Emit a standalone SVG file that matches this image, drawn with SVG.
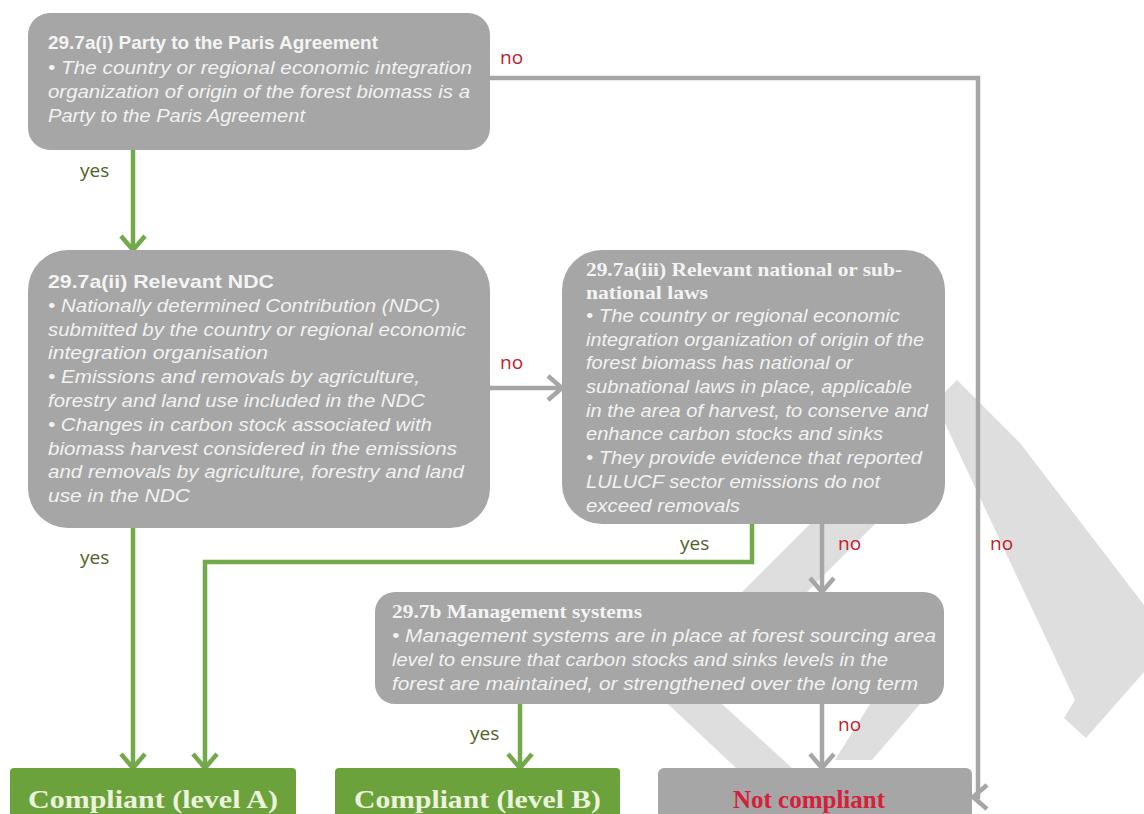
<svg xmlns="http://www.w3.org/2000/svg" width="1144" height="814" viewBox="0 0 1144 814">
<style>
.box{fill:#a6a6a6}
.gbox{fill:#6ca23b}
.t{font-family:"Liberation Sans",Arial,sans-serif;font-size:19px;font-weight:bold;fill:#f4f4f4}
.ts{font-family:"Liberation Serif","Times New Roman",serif;font-size:19px;font-weight:bold;fill:#f4f4f4}
.b{font-family:"Liberation Sans",Arial,sans-serif;font-size:18px;font-style:italic;fill:#f2f2f2}
.yes{font-family:"Open Sans","Liberation Sans",sans-serif;font-size:19px;fill:#4f6228}
.no{font-family:"Open Sans","Liberation Sans",sans-serif;font-size:19px;fill:#c0202a}
.big{font-family:"Liberation Serif","Times New Roman",serif;font-size:25px;font-weight:bold}
.cg{fill:none;stroke:#72a94a;stroke-width:4.5}
.cr{fill:none;stroke:#a6a6a6;stroke-width:4.5}
.wm{fill:#dedede}
</style>
<defs>
<marker id="ag" viewBox="-20 -16 24 32" markerWidth="24" markerHeight="32" refX="-1" refY="0" orient="auto" markerUnits="userSpaceOnUse">
<path d="M-15,-12 L-1,0 L-15,12" fill="none" stroke="#72a94a" stroke-width="4.5"/>
</marker>
<marker id="ar" viewBox="-20 -16 24 32" markerWidth="24" markerHeight="32" refX="-1" refY="0" orient="auto" markerUnits="userSpaceOnUse">
<path d="M-15,-12 L-1,0 L-15,12" fill="none" stroke="#a6a6a6" stroke-width="4.5"/>
</marker>
</defs>
<rect width="1144" height="814" fill="#ffffff"/>
<g id="watermark">
<polygon class="wm" points="935,402 957,380 1020,443 1144,605 1144,672 1086,738 1064,718 1075,700"/>
<polygon class="wm" points="854,480 919,480 749,650 684,650"/>
<polygon class="wm" points="668,704 722,704 792,768 736,768"/>
<polygon class="wm" points="870,704 920,704 872,760 835,760"/>
</g>
<g id="connectors">
<path class="cg" d="M133,150 V250" marker-end="url(#ag)"/>
<path class="cg" d="M133,528 V768" marker-end="url(#ag)"/>
<path class="cg" d="M752,524 V562 H205 V768" marker-end="url(#ag)"/>
<path class="cg" d="M520,704 V768" marker-end="url(#ag)"/>
<path class="cr" d="M490,78 H978 V797 H973" marker-end="url(#ar)"/>
<path class="cr" d="M490,388 H562" marker-end="url(#ar)"/>
<path class="cr" d="M822,524 V592" marker-end="url(#ar)"/>
<path class="cr" d="M822,704 V768" marker-end="url(#ar)"/>
<text class="no" x="500" y="64">no</text>
<text class="yes" x="80" y="177">yes</text>
<text class="no" x="500" y="369">no</text>
<text class="yes" x="80" y="564">yes</text>
<text class="yes" x="680" y="550">yes</text>
<text class="no" x="838" y="550">no</text>
<text class="no" x="990" y="550">no</text>
<text class="yes" x="470" y="740">yes</text>
<text class="no" x="838" y="731">no</text>
</g>
<g id="n1">
<rect class="box" x="28" y="13" width="462" height="137" rx="22"/>
<text class="t" x="48" y="49" textLength="330" lengthAdjust="spacingAndGlyphs">29.7a(i) Party to the Paris Agreement</text>
<text class="b" x="48" y="74" textLength="424" lengthAdjust="spacingAndGlyphs">• The country or regional economic integration</text>
<text class="b" x="48" y="98" textLength="422" lengthAdjust="spacingAndGlyphs">organization of origin of the forest biomass is a</text>
<text class="b" x="48" y="122" textLength="257" lengthAdjust="spacingAndGlyphs">Party to the Paris Agreement</text>
</g>
<g id="n2">
<rect class="box" x="28" y="250" width="462" height="278" rx="40"/>
<text class="t" x="48" y="288" textLength="226" lengthAdjust="spacingAndGlyphs">29.7a(ii) Relevant NDC</text>
<text class="b" x="48" y="312" textLength="392" lengthAdjust="spacingAndGlyphs">• Nationally determined Contribution (NDC)</text>
<text class="b" x="48" y="336" textLength="418" lengthAdjust="spacingAndGlyphs">submitted by the country or regional economic</text>
<text class="b" x="48" y="359" textLength="220" lengthAdjust="spacingAndGlyphs">integration organisation</text>
<text class="b" x="48" y="383" textLength="372" lengthAdjust="spacingAndGlyphs">• Emissions and removals by agriculture,</text>
<text class="b" x="48" y="407" textLength="377" lengthAdjust="spacingAndGlyphs">forestry and land use included in the NDC</text>
<text class="b" x="48" y="431" textLength="384" lengthAdjust="spacingAndGlyphs">• Changes in carbon stock associated with</text>
<text class="b" x="48" y="455" textLength="409" lengthAdjust="spacingAndGlyphs">biomass harvest considered in the emissions</text>
<text class="b" x="48" y="478" textLength="416" lengthAdjust="spacingAndGlyphs">and removals by agriculture, forestry and land</text>
<text class="b" x="48" y="502" textLength="142" lengthAdjust="spacingAndGlyphs">use in the NDC</text>
</g>
<g id="n3">
<rect class="box" x="562" y="250" width="383" height="274" rx="40"/>
<text class="ts" x="586" y="276" textLength="316" lengthAdjust="spacingAndGlyphs">29.7a(iii) Relevant national or sub-</text>
<text class="ts" x="586" y="299" textLength="122" lengthAdjust="spacingAndGlyphs">national laws</text>
<text class="b" x="586" y="322" textLength="314" lengthAdjust="spacingAndGlyphs">• The country or regional economic</text>
<text class="b" x="586" y="346" textLength="338" lengthAdjust="spacingAndGlyphs">integration organization of origin of the</text>
<text class="b" x="586" y="369" textLength="267" lengthAdjust="spacingAndGlyphs">forest biomass has national or</text>
<text class="b" x="586" y="393" textLength="326" lengthAdjust="spacingAndGlyphs">subnational laws in place, applicable</text>
<text class="b" x="586" y="417" textLength="342" lengthAdjust="spacingAndGlyphs">in the area of harvest, to conserve and</text>
<text class="b" x="586" y="440" textLength="297" lengthAdjust="spacingAndGlyphs">enhance carbon stocks and sinks</text>
<text class="b" x="586" y="464" textLength="336" lengthAdjust="spacingAndGlyphs">• They provide evidence that reported</text>
<text class="b" x="586" y="488" textLength="294" lengthAdjust="spacingAndGlyphs">LULUCF sector emissions do not</text>
<text class="b" x="586" y="512" textLength="154" lengthAdjust="spacingAndGlyphs">exceed removals</text>
</g>
<g id="n4">
<rect class="box" x="375" y="592" width="569" height="112" rx="20"/>
<text class="ts" x="392" y="618" textLength="250" lengthAdjust="spacingAndGlyphs">29.7b Management systems</text>
<text class="b" x="392" y="642" textLength="544" lengthAdjust="spacingAndGlyphs">• Management systems are in place at forest sourcing area</text>
<text class="b" x="392" y="666" textLength="496" lengthAdjust="spacingAndGlyphs">level to ensure that carbon stocks and sinks levels in the</text>
<text class="b" x="392" y="690" textLength="526" lengthAdjust="spacingAndGlyphs">forest are maintained, or strengthened over the long term</text>
</g>
<g id="n5">
<rect class="gbox" x="10" y="768" width="286" height="60" rx="4"/>
<text class="big" x="28" y="808" textLength="250" lengthAdjust="spacingAndGlyphs" fill="#ebf3dc">Compliant (level A)</text>
</g>
<g id="n6">
<rect class="gbox" x="335" y="768" width="285" height="60" rx="4"/>
<text class="big" x="354" y="808" textLength="247" lengthAdjust="spacingAndGlyphs" fill="#ebf3dc">Compliant (level B)</text>
</g>
<g id="n7">
<rect class="box" x="658" y="768" width="314" height="60" rx="6"/>
<text class="big" x="733" y="808" textLength="152" lengthAdjust="spacingAndGlyphs" fill="#d4203a">Not compliant</text>
</g>
</svg>
